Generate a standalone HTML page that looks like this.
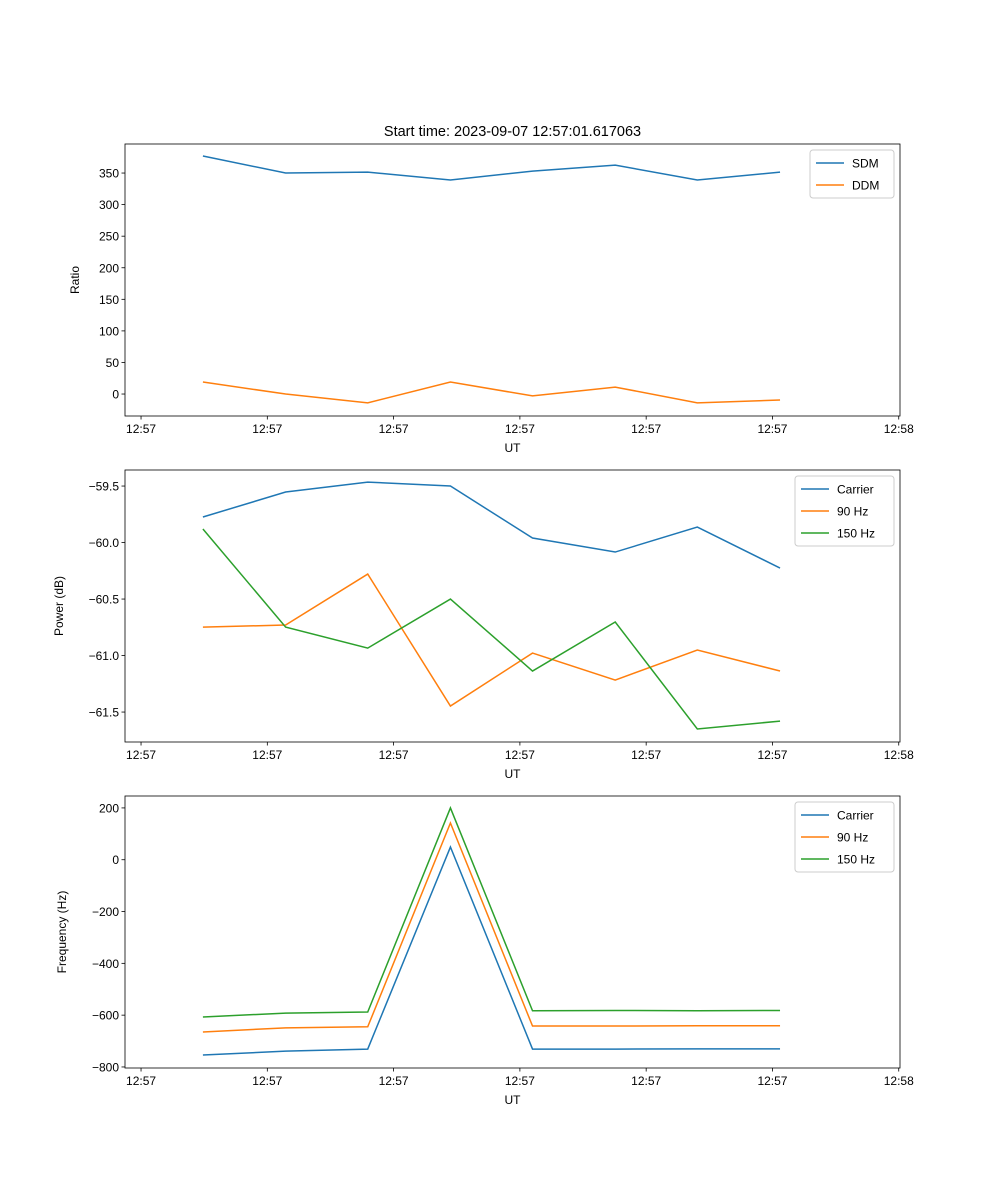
<!DOCTYPE html>
<html><head><meta charset="utf-8"><style>
body{margin:0;background:#fff}
svg{display:block;font-family:"Liberation Sans","DejaVu Sans",sans-serif}
</style></head><body>
<svg id="fig" width="1000" height="1200" viewBox="0 0 1000 1200"></svg>
<script>
const xSeconds=[4.9,11.45,17.95,24.5,31.0,37.55,44.05,50.6];
const xTickValues=[0,10,20,30,40,50,60];
const xTickLabels=["12:57","12:57","12:57","12:57","12:57","12:57","12:58"];
const sdm=[377,350,351.5,339,353,362.5,339,351.5];
const ddm=[19,0,-14,19,-3,11,-14,-9.5];
const ratioTicks=[0,50,100,150,200,250,300,350];
const powCarrier=[-59.774,-59.553,-59.465,-59.5,-59.96,-60.084,-59.863,-60.226];
const pow90=[-60.748,-60.73,-60.279,-61.447,-60.978,-61.217,-60.951,-61.137];
const pow150=[-59.88,-60.748,-60.934,-60.5,-61.137,-60.703,-61.65,-61.58];
const powTicks=[-59.5,-60.0,-60.5,-61.0,-61.5];
const freqCarrier=[-754,-739,-731,49,-731,-731,-730,-730];
const freq90=[-665,-649,-645,142,-642,-642,-641,-641];
const freq150=[-607,-592,-588,200,-583,-582,-583,-582];
const freqTicks=[200,0,-200,-400,-600,-800];

const NS="http://www.w3.org/2000/svg";
const fig=document.getElementById('fig');
function el(tag,attrs,parent,text){const e=document.createElementNS(NS,tag);for(const k in attrs)e.setAttribute(k,attrs[k]);if(text!==undefined)e.textContent=text;(parent||fig).appendChild(e);return e;}
const C={blue:"#1f77b4",orange:"#ff7f0e",green:"#2ca02c"};
const L=125,R=900;
const xs=v=>L+(v-(-1.27))/(60.1-(-1.27))*(R-L);

function panel(name,top,bot,ymin,ymax,ticks,fmt,ylabel,series,legend){
  const g=el('g',{});
  
  
  const ys=v=>bot-(v-ymin)/(ymax-ymin)*(bot-top);
  series.forEach(s=>{
    const p=el('polyline',{points:s.data.map((v,i)=>xs(xSeconds[i]).toFixed(2)+','+ys(v).toFixed(2)).join(' '),fill:'none',stroke:s.color,'stroke-width':1.5},g);
    
    
  });
  const fr=el('rect',{x:L,y:top,width:R-L,height:bot-top,fill:'none',stroke:'#000','stroke-width':0.8},g);
  
  
  xTickValues.forEach((v,i)=>{const x=xs(v);el('line',{x1:x,x2:x,y1:bot,y2:bot+3.5,stroke:'#000','stroke-width':0.8},g);
    const t=el('text',{x:x,y:bot+17,'font-size':12,'text-anchor':'middle'},g,xTickLabels[i]);
    
    });
  ticks.forEach(v=>{const y=ys(v);el('line',{x1:L-3.5,x2:L,y1:y,y2:y,stroke:'#000','stroke-width':0.8},g);
    const t=el('text',{x:L-6,y:y+4.5,'font-size':12,'text-anchor':'end'},g,fmt(v));
    
    });
  const xl=el('text',{x:(L+R)/2,y:bot+36,'font-size':12,'text-anchor':'middle'},g,'UT');
  
  
  const yl=el('text',{x:0,y:0,'font-size':12,'text-anchor':'middle',transform:`translate(${legend.ylx},${(top+bot)/2}) rotate(-90)`},g,ylabel);
  
  
  const lg=el('g',{},g);
  
  
  const lh=series.length*22+4;
  el('rect',{x:legend.x,y:top+6,width:R-6-legend.x,height:lh,fill:'#fff',stroke:'#ccc',rx:3},lg);
  series.forEach((s,i)=>{const y=top+6+13+i*22;
    el('line',{x1:legend.x+6,x2:legend.x+34,y1:y,y2:y,stroke:s.color,'stroke-width':1.5},lg);
    const t=el('text',{x:legend.x+42,y:y+4.5,'font-size':12},lg,s.label);
    
    });
}
const title=el('text',{x:512.5,y:136,'font-size':14.5,'text-anchor':'middle'},fig,'Start time: 2023-09-07 12:57:01.617063');


panel('ratio-panel',144,416,-34.8,396,ratioTicks,v=>String(v),'Ratio',
  [{id:'sdm-line',data:sdm,color:C.blue,label:'SDM'},{id:'ddm-line',data:ddm,color:C.orange,label:'DDM'}],{x:810,ylx:79});
panel('power-panel',470,742,-61.765,-59.358,powTicks,v=>'\u2212'+Math.abs(v).toFixed(1),'Power (dB)',
  [{id:'power-carrier-line',data:powCarrier,color:C.blue,label:'Carrier'},{id:'power-90hz-line',data:pow90,color:C.orange,label:'90 Hz'},{id:'power-150hz-line',data:pow150,color:C.green,label:'150 Hz'}],{x:795,ylx:63});
panel('frequency-panel',796,1068,-804,246,freqTicks,v=>v<0?'\u2212'+Math.abs(v):String(v),'Frequency (Hz)',
  [{id:'freq-carrier-line',data:freqCarrier,color:C.blue,label:'Carrier'},{id:'freq-90hz-line',data:freq90,color:C.orange,label:'90 Hz'},{id:'freq-150hz-line',data:freq150,color:C.green,label:'150 Hz'}],{x:795,ylx:66});
</script>
</body></html>
